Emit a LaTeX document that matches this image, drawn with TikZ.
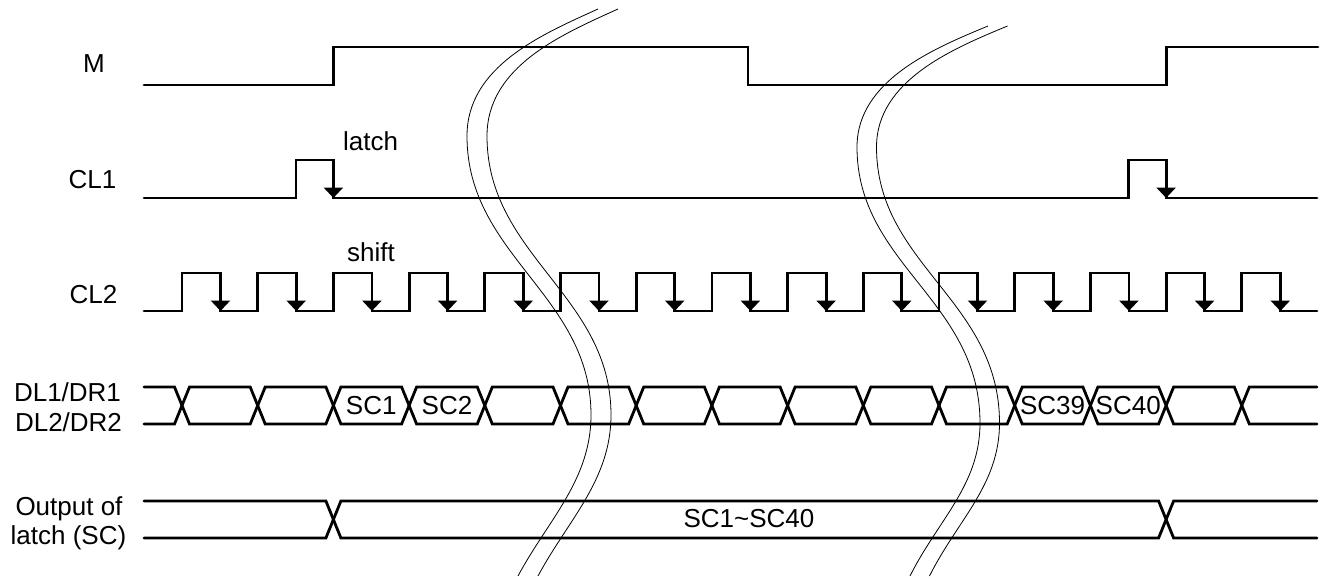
\documentclass[tikz,border=0pt]{standalone}
\usepackage{fontspec}
\setmainfont{Liberation Sans}
\usetikzlibrary{arrows.meta}
\begin{document}
\begin{tikzpicture}[x=1pt,y=-1pt,
  wave/.style={line width=2.8pt, line cap=round},
  brk/.style={line width=0.8pt},
  edgearrow/.style={line width=2.8pt, -{Triangle[width=19pt,length=10.5pt]}},
  lab/.style={inner sep=0pt, anchor=base, font=\fontsize{26}{30}\selectfont}]
\useasboundingbox (0,0) rectangle (1322,576);
\pgfmathsetmacro\per{75.7}
\pgfmathsetmacro\hw{7.5}
% ---- labels
\node[lab] (lM)   at (94,72.7)   {M};
\node[lab] (lCL1) at (92.5,188.3) {CL1};
\node[lab] (lCL2) at (93.5,303.3) {CL2};
\node[lab] (lDL1) at (67.5,401.7) {DL1/DR1};
\node[lab] (lDL2) at (68.5,431.7) {DL2/DR2};
\node[lab] (lOut1) at (69,515)   {Output of};
\node[lab] (lOut2) at (68.5,544.5) {latch (SC)};
\node[lab,anchor=base west] (tlatch) at (343,150) {latch};
\node[lab] (tshift) at (371,261.7) {shift};
\node[lab] (tsc1)  at ({182+2.5*\per},414.5) {SC1};
\node[lab] (tsc2)  at ({182+3.5*\per},414.5) {SC2};
\node[lab] (tsc39) at ({182+11.5*\per},414.5) {SC39};
\node[lab] (tsc40) at ({182+12.5*\per},414.5) {SC40};
\node[lab] (tsco)  at (749,527.3) {SC1\textasciitilde SC40};
% ---- M
\draw[wave] (144,85) -- ({182+2*\per},85) -- ({182+2*\per},47) -- (748,47) -- (748,85)
  -- ({182+13*\per},85) -- ({182+13*\per},47) -- (1318,47);
% ---- CL1
\draw[wave] (144,198) -- ({182+2*\per-37.5},198) -- ++(0,-38) -- ({182+2*\per},160) -- ({182+2*\per},198)
  -- ({182+13*\per-37.5},198) -- ++(0,-38) -- ({182+13*\per},160) -- ({182+13*\per},198) -- (1317,198);
\draw[edgearrow] ({182+2*\per},160) -- ({182+2*\per},198);
\draw[edgearrow] ({182+13*\per},160) -- ({182+13*\per},198);
% ---- CL2
\draw[wave] (144,311) \foreach \k in {0,...,14} {
   -- ({182+\per*\k},311) -- ({182+\per*\k},273) -- ({182+\per*\k+38.5},273) -- ({182+\per*\k+38.5},311) }
   -- (1317,311);
\foreach \k in {0,...,14} {
  \draw[edgearrow] ({182+\per*\k+38.5},273) -- ({182+\per*\k+38.5},311);
}
% ---- DL bus
\draw[wave] (144,387) \foreach \k in {0,2,...,12} {
   -- ({182+\per*\k-\hw},387) -- ({182+\per*\k+\hw},424)
   -- ({182+\per*(\k+1)-\hw},424) -- ({182+\per*(\k+1)+\hw},387) }
   -- ({182+\per*14-\hw},387) -- ({182+\per*14+\hw},424) -- (1317,424);
\draw[wave] (144,424) \foreach \k in {0,2,...,12} {
   -- ({182+\per*\k-\hw},424) -- ({182+\per*\k+\hw},387)
   -- ({182+\per*(\k+1)-\hw},387) -- ({182+\per*(\k+1)+\hw},424) }
   -- ({182+\per*14-\hw},424) -- ({182+\per*14+\hw},387) -- (1317,387);
% ---- Output of latch
\draw[wave] (144,501) -- ({182+2*\per-\hw},501) -- ({182+2*\per+\hw},538)
  -- ({182+13*\per-\hw},538) -- ({182+13*\per+\hw},501) -- (1317,501);
\draw[wave] (144,538) -- ({182+2*\per-\hw},538) -- ({182+2*\per+\hw},501)
  -- ({182+13*\per-\hw},501) -- ({182+13*\per+\hw},538) -- (1317,538);
% ---- break curves
\foreach \dx in {0,20} {
  \draw[brk] (598+\dx,9) .. controls (543+\dx,34) and (467+\dx,66) .. (467+\dx,136)
    .. controls (467+\dx,256) and (591+\dx,295) .. (591+\dx,415)
    .. controls (591+\dx,480) and (548+\dx,520) .. (518+\dx,576);
}
\foreach \dx in {0,19.5} {
  \draw[brk] (988+\dx,26) .. controls (935+\dx,48) and (857+\dx,80) .. (857+\dx,147)
    .. controls (857+\dx,265) and (980+\dx,300) .. (980+\dx,423)
    .. controls (980+\dx,485) and (938+\dx,520) .. (910+\dx,576);
}
\end{tikzpicture}
\end{document}
